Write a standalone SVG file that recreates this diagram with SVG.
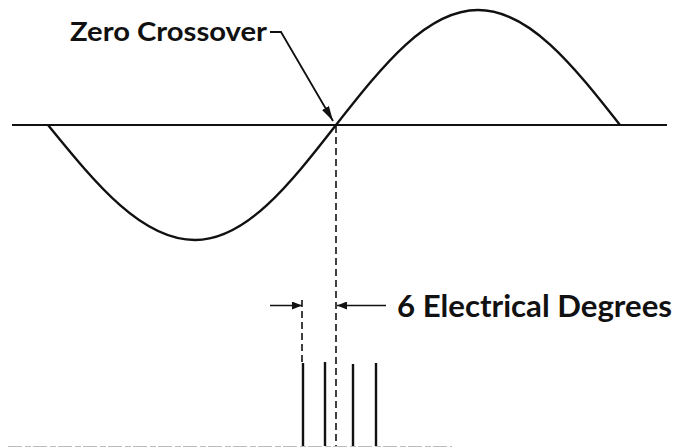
<svg xmlns="http://www.w3.org/2000/svg" width="679" height="448" viewBox="0 0 679 448">
  <style>
    .lbl { font-family: Lato, "Liberation Sans", Arial, sans-serif; font-weight: 700; fill: #111; }
    .ln { stroke: #111; fill: none; }
    .dash { stroke: #111; stroke-width: 1.6; stroke-dasharray: 7 4; fill: none; }
  </style>
  <defs>
    <marker id="ah" viewBox="0 0 10 8" refX="10" refY="4" markerWidth="10" markerHeight="8" markerUnits="userSpaceOnUse" orient="auto">
      <path d="M0,0 L10,4 L0,8 z" fill="#111"/>
    </marker>
    <marker id="ahBig" viewBox="0 0 15 8" refX="15" refY="4" markerWidth="15" markerHeight="8" markerUnits="userSpaceOnUse" orient="auto">
      <path d="M0,0 L15,4 L0,8 z" fill="#111"/>
    </marker>
  </defs>
  <rect width="679" height="448" fill="#fff"/>

  <g id="axis">
    <line class="ln" x1="12" y1="125" x2="667" y2="125" stroke-width="1.8"/>
  </g>
  <g id="sine-wave">
    <path class="ln" stroke-width="2.4" d="M48,125 C97.1,185.4 142.1,240 195,240 C245.8,240 288.9,185.4 336,125 C383.5,64.6 426.9,10 478,10 C529.1,10 572.5,64.6 620,125"/>
  </g>
  <g id="pulses">
    <line class="ln" stroke-width="2.4" x1="303" y1="363" x2="303" y2="446"/>
    <line class="ln" stroke-width="2.4" x1="325" y1="362" x2="325" y2="446"/>
    <line class="ln" stroke-width="2.4" x1="353" y1="364" x2="353" y2="446"/>
    <line class="ln" stroke-width="2.4" x1="376" y1="363" x2="376" y2="446"/>
  </g>
  <g id="baseline">
    <line x1="8" y1="446.5" x2="452" y2="446.5" stroke="#bbb" stroke-width="1" stroke-dasharray="14 3 6 2"/>
  </g>
  <g id="label-zero-crossover">
    <text class="lbl" x="70" y="41" font-size="26" textLength="197" lengthAdjust="spacingAndGlyphs">Zero Crossover</text>
  </g>
  <g id="label-degrees">
    <text class="lbl" x="397" y="317" font-size="31" textLength="275" lengthAdjust="spacingAndGlyphs">6 Electrical Degrees</text>
  </g>

  <g id="connectors">
    <polyline class="ln" stroke-width="1.8" points="270,32 281,32 333,121" marker-end="url(#ahBig)"/>
    <line class="dash" x1="336" y1="126" x2="336" y2="446"/>
    <line class="dash" x1="302" y1="300" x2="302" y2="362"/>
    <line class="ln" stroke-width="1.5" x1="270" y1="305.5" x2="302" y2="305.5" marker-end="url(#ah)"/>
    <line class="ln" stroke-width="1.5" x1="386" y1="305.5" x2="337" y2="305.5" marker-end="url(#ah)"/>
  </g>
</svg>
